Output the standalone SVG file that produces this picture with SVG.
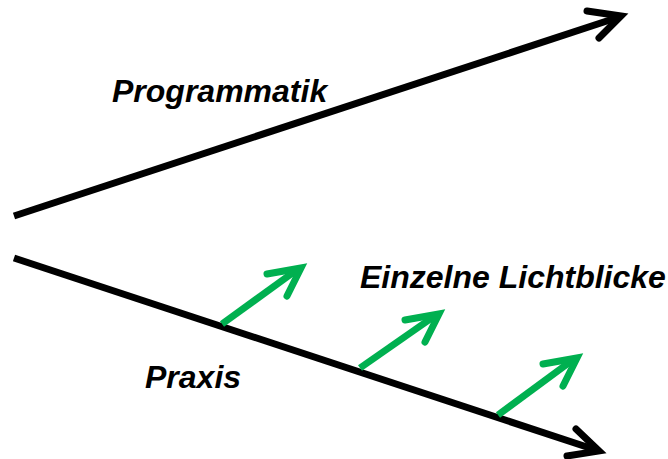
<svg xmlns="http://www.w3.org/2000/svg" width="668" height="459" viewBox="0 0 668 459">
<style>
.lbl{font-family:"Liberation Sans",Arial,sans-serif;font-weight:bold;font-style:italic;font-size:32px;fill:#000}
.blk{stroke:#000;stroke-width:7;fill:none}
.grn{stroke:#00B050;stroke-width:7;fill:none}
.head{stroke-linecap:round;stroke-linejoin:miter;stroke-miterlimit:10}
</style>
<rect width="668" height="459" fill="#fff"/>
<g id="connectors">
<g id="programmatik-arrow">
<path class="blk" d="M14,216 L619,17"/>
<polyline class="blk head" points="587,11 621,16 599,38"/>
</g>
<g id="praxis-arrow">
<path class="blk" d="M14,258 L596,450"/>
<polyline class="blk head" points="576,429 599,451 567,456"/>
</g>
<g id="lichtblick-1">
<path class="grn" d="M222,324 L298,269"/>
<polyline class="grn head" points="267,274 301,268 287,296"/>
</g>
<g id="lichtblick-2">
<path class="grn" d="M360,368 L436,315"/>
<polyline class="grn head" points="405,320 439,314 425,342"/>
</g>
<g id="lichtblick-3">
<path class="grn" d="M498,415 L574,359"/>
<polyline class="grn head" points="543,364 577,358 563,386"/>
</g>
</g>
<g id="label-programmatik"><text class="lbl" x="112" y="102">Programmatik</text></g>
<g id="label-lichtblicke"><text class="lbl" x="360" y="288">Einzelne Lichtblicke</text></g>
<g id="label-praxis"><text class="lbl" x="145" y="388">Praxis</text></g>
</svg>
